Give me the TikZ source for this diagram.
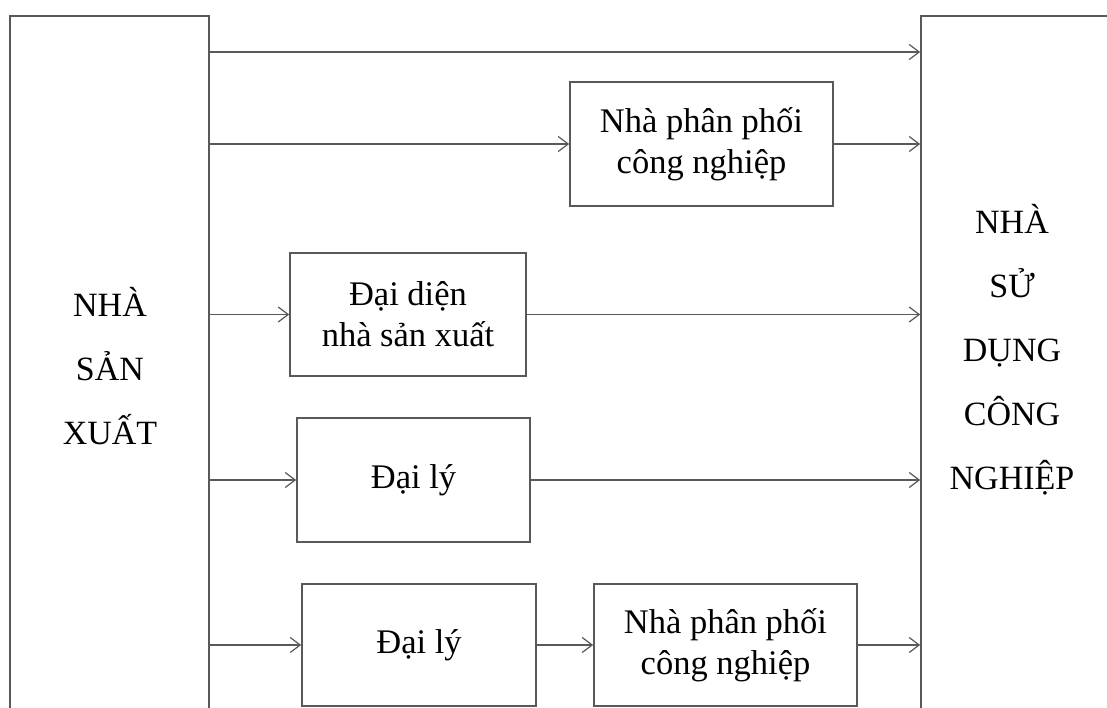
\documentclass[tikz,border=0pt]{standalone}
\usepackage{fontspec}
\setmainfont{Liberation Serif}
\usepackage{tikz}
\usetikzlibrary{positioning,arrows.meta}

\begin{document}
\begin{tikzpicture}[x=1pt,y=-1pt,
    line width=1.6pt,
    >={Straight Barb[length=10pt,width=15pt,line width=1.2pt]},
    box/.style={draw=black!65,inner sep=0pt,align=center,
      font=\fontsize{34.5}{41}\selectfont},
    bigtext/.style={inner sep=0pt,align=center,
      font=\fontsize{34}{64}\selectfont},
    arr/.style={->,draw=black!65}]
  \useasboundingbox (0,0) rectangle (1107,707);
  \clip (0,0) rectangle (1107,707);
  % the two open-ended columns
  \node[draw=black!65,minimum width=199pt,minimum height=792pt] (maker) at (109.5,412) {};
  \node[draw=black!65,minimum width=300pt,minimum height=792pt] (user) at (1071,412) {};
  \node[bigtext] (makertext) at (110,366) {NHÀ\\SẢN\\XUẤT};
  \node[bigtext] (usertext) at (1012,350) {NHÀ\\SỬ\\DỤNG\\CÔNG\\NGHIỆP};
  % intermediaries
  \node[box,minimum width=263pt,minimum height=124pt] (dist) at (701.5,144) {Nhà phân phối\\công nghiệp};
  \node[box,minimum width=236pt,minimum height=123pt] (rep) at (408,314.5) {Đại diện\\nhà sản xuất};
  \node[box,minimum width=233pt,minimum height=124pt] (agent) at (413.5,480) {Đại lý};
  \node[box,minimum width=234pt,minimum height=122pt] (agentb) at (419,645) {Đại lý};
  \node[box,minimum width=263pt,minimum height=122pt] (distb) at (725.5,645) {Nhà phân phối\\công nghiệp};
  % channels
  \coordinate (direct) at (0,52);
  \draw[arr,line width=2.4pt] (maker.east |- direct) -- (user.west |- direct);
  \draw[arr] (maker.east |- dist.west) -- (dist.west);
  \draw[arr] (dist.east) -- (user.west |- dist.east);
  \draw[arr] (maker.east |- rep.west) -- (rep.west);
  \draw[arr] (rep.east) -- (user.west |- rep.east);
  \draw[arr] (maker.east |- agent.west) -- (agent.west);
  \draw[arr] (agent.east) -- (user.west |- agent.east);
  \draw[arr] (maker.east |- agentb.west) -- (agentb.west);
  \draw[arr] (agentb.east) -- (distb.west);
  \draw[arr] (distb.east) -- (user.west |- distb.east);
\end{tikzpicture}
\end{document}
